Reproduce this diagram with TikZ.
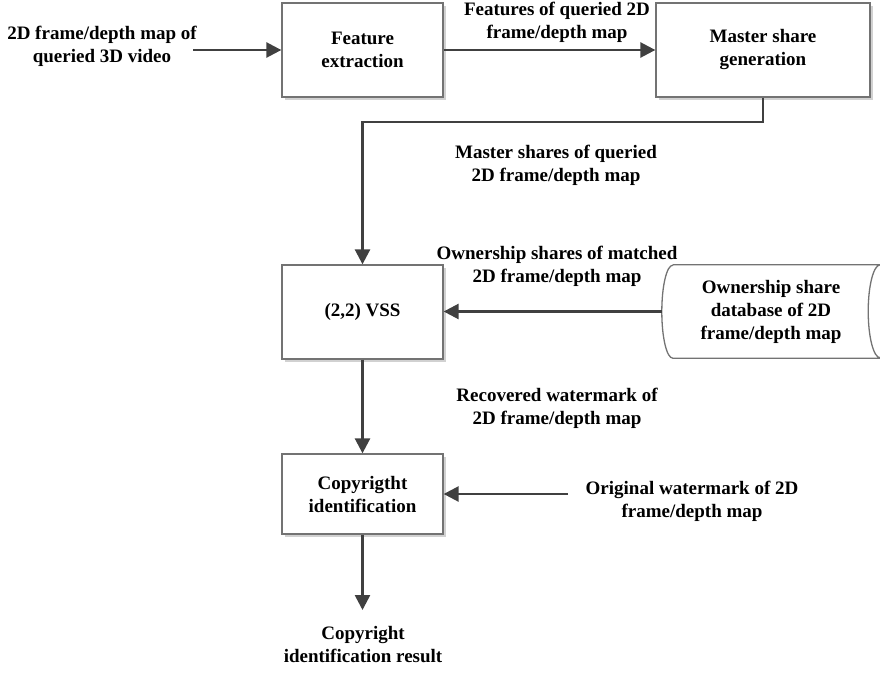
\documentclass[tikz,border=0pt]{standalone}
\usepackage{fontspec}
\setmainfont{Liberation Serif}
\usetikzlibrary{arrows.meta,shadows,calc}

\tikzset{
  procbox/.style={draw=black!55, line width=1.3pt, fill=white, align=center,
    drop shadow={shadow xshift=2.5pt, shadow yshift=-2.5pt, fill=black!18, opacity=1},
    font=\fontsize{19}{23}\selectfont\bfseries},
  lbl/.style={align=center, inner sep=0pt, font=\fontsize{19}{23}\selectfont\bfseries},
  flow/.style={draw=black!75, line width=2.6pt,
    -{Triangle[length=15pt,width=15pt]}}
}

\begin{document}
\begin{tikzpicture}[x=1pt,y=-1pt]
\useasboundingbox (0,0) rectangle (880,672);

% process blocks
\node[procbox, minimum width=161pt, minimum height=94pt] (fe)  at (362.5,50)  {Feature\\extraction};
\node[procbox, minimum width=214pt, minimum height=94pt] (msg) at (763,50)    {Master share\\generation};
\node[procbox, minimum width=161pt, minimum height=94pt] (vss) at (362.5,312) {(2,2) VSS};
\node[procbox, minimum width=161pt, minimum height=80pt] (cid) at (362.5,494) {Copyrigtht\\identification};

% share database (storage symbol)
\node[lbl, minimum width=218pt, minimum height=93pt] (db) at (771,311.5)
  {Ownership share\\database of 2D\\frame/depth map};
\draw[black!55, line width=1.3pt]
  ([xshift=11pt]db.north west) -- (db.north east)
  arc[start angle=90, end angle=270, x radius=12pt, y radius=46.5pt]
  (db.south east) -- ([xshift=11pt]db.south west)
  arc[start angle=270, end angle=90, x radius=11pt, y radius=46.5pt];

% free-standing labels
\node[lbl] (inp) at (102,46.5) {2D frame/depth map of\\queried 3D video};
\coordinate (inpend) at (193,50);
\node[lbl] (lfeat) at (557,22.5) {Features of queried 2D\\frame/depth map};
\node[lbl] (lmast) at (556,165) {Master shares of queried\\2D frame/depth map};
\node[lbl] (lown) at (557,266) {Ownership shares of matched\\2D frame/depth map};
\node[lbl] (lrec) at (557,408.5) {Recovered watermark of\\2D frame/depth map};
\node[lbl] (lorig) at (692,501) {Original watermark of 2D\\frame/depth map};
\coordinate (origend) at (568,494);
\node[lbl] (res) at (363,645) {Copyright\\identification result};
\coordinate (resend) at (362.5,610);
\coordinate (bend1) at (763,122);
\coordinate (bend2) at (362.5,122);

% connectors
\draw[flow] (inpend) -- (fe.west);
\draw[flow] (fe.east) -- (msg.west);
\draw[flow] (msg.south) -- (bend1) -- (bend2) -- (vss.north);
\draw[flow] (db.west) -- (db.west -| vss.east);
\draw[flow] (vss.south) -- (cid.north);
\draw[flow] (origend) -- (origend -| cid.east);
\draw[flow] (cid.south) -- (resend);
\end{tikzpicture}
\end{document}
